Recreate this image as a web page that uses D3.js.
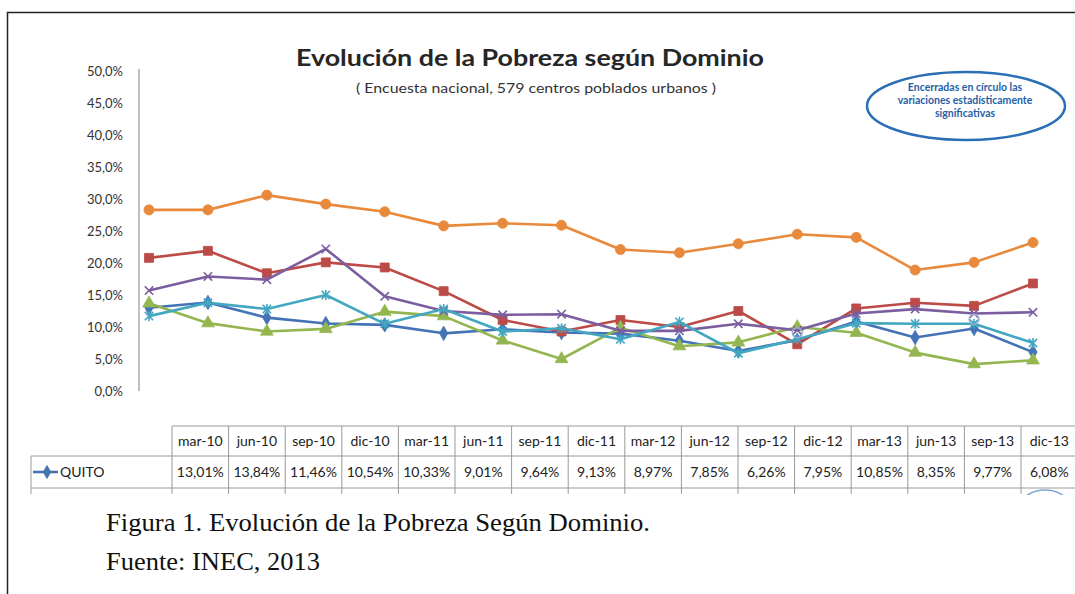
<!DOCTYPE html>
<html>
<head>
<meta charset="utf-8">
<script src="https://cdn.jsdelivr.net/npm/d3@7"></script>
<style>
  body { margin: 0; background: #fff; }
  svg { display: block; font-family: Lato, "Open Sans", sans-serif; }
</style>
</head>
<body>
<script>
// periods (table header) and values, in %
const dates = ["mar-10","jun-10","sep-10","dic-10","mar-11","jun-11","sep-11","dic-11",
               "mar-12","jun-12","sep-12","dic-12","mar-13","jun-13","sep-13","dic-13"];
const quito   = [13.01,13.84,11.46,10.54,10.33,9.01,9.64,9.13,8.97,7.85,6.26,7.95,10.85,8.35,9.77,6.08];
// other domains (rows of the table are cut off in the picture)
const serie2  = [20.8,21.9,18.4,20.1,19.3,15.6,11.1,9.3,11.1,10.0,12.5,7.3,12.9,13.8,13.3,16.8];
const serie3  = [13.7,10.6,9.3,9.7,12.4,11.7,7.9,5.0,9.9,7.0,7.6,10.0,9.1,6.0,4.2,4.8];
const serie4  = [15.7,17.9,17.4,22.2,14.8,12.5,11.9,12.0,9.4,9.4,10.5,9.5,12.1,12.8,12.1,12.3];
const serie5  = [11.7,13.8,12.8,15.0,10.5,12.8,9.3,9.8,8.1,10.8,5.9,8.1,10.6,10.5,10.5,7.5];
const serie6  = [28.3,28.3,30.6,29.2,28.0,25.8,26.2,25.9,22.1,21.6,23.0,24.5,24.0,18.9,20.1,23.2];
const yTicks  = [0,5,10,15,20,25,30,35,40,45,50];
// small circles marking significant changes
const sigDates  = ["dic-12","sep-13"];
const sigValues = [9.1, 11.2];

const W = 1075, H = 594;

// custom marker shapes (excel style x and star)
const symX = {
  draw(ctx, size) {
    const r = Math.sqrt(size) / 2;
    ctx.moveTo(-r, -r); ctx.lineTo(r, r);
    ctx.moveTo(r, -r); ctx.lineTo(-r, r);
  }
};
const symStar = {
  draw(ctx, size) {
    const r = Math.sqrt(size) / 2;
    ctx.moveTo(-r, -r); ctx.lineTo(r, r);
    ctx.moveTo(r, -r); ctx.lineTo(-r, r);
    ctx.moveTo(0, -r * 1.2); ctx.lineTo(0, r * 1.2);
  }
};

const series = [
  {name: "QUITO", values: quito,  color: "#4473b5", type: d3.symbolDiamond, size: 60, open: false},
  {name: "s2",    values: serie2, color: "#bc4a47", type: d3.symbolSquare,  size: 80, open: false},
  {name: "s3",    values: serie3, color: "#94b650", type: d3.symbolTriangle, size: 70, open: false},
  {name: "s4",    values: serie4, color: "#7b5e9f", type: symX,    size: 70, open: true},
  {name: "s5",    values: serie5, color: "#43a7c2", type: symStar, size: 70, open: true},
  {name: "s6",    values: serie6, color: "#e8893b", type: d3.symbolCircle, size: 80, open: false}
];

const svg = d3.select("body").append("svg").attr("width", W).attr("height", H);

// frame
svg.append("rect").attr("x", 7.5).attr("y", 12.5).attr("width", W).attr("height", H)
  .attr("fill", "none").attr("stroke", "#222").attr("stroke-width", 1.5);

const x = d3.scalePoint().domain(dates).range([149, 1033]);
const y = d3.scaleLinear().domain([0, 50]).range([391, 71]);

// title
svg.append("text").attr("x", 530).attr("y", 66).attr("text-anchor", "middle")
  .attr("font-size", 23).attr("font-weight", "bold").attr("fill", "#262626")
  .attr("textLength", 468).attr("lengthAdjust", "spacingAndGlyphs")
  .text("Evolución de la Pobreza según Dominio");
svg.append("text").attr("x", 536).attr("y", 93).attr("text-anchor", "middle")
  .attr("font-size", 13).attr("fill", "#333")
  .attr("textLength", 360).attr("lengthAdjust", "spacingAndGlyphs")
  .text("( Encuesta nacional, 579  centros poblados urbanos )");

// note in ellipse
svg.append("ellipse").attr("cx", 966).attr("cy", 106).attr("rx", 99).attr("ry", 34)
  .attr("fill", "none").attr("stroke", "#2a6fb5").attr("stroke-width", 2.5);
const note = ["Encerradas en círculo las", "variaciones estadísticamente", "significativas"];
svg.append("g").selectAll("text").data(note).join("text")
  .attr("x", 965).attr("y", (d, i) => 87 + i * 13).attr("dy", "0.35em").attr("text-anchor", "middle")
  .attr("font-size", 10.5).attr("font-weight", "bold").attr("fill", "#1f5fa6")
  .text(d => d);

// y axis
svg.append("line").attr("x1", 139).attr("x2", 139).attr("y1", 69).attr("y2", 391)
  .attr("stroke", "#aaa").attr("stroke-width", 1.5);
svg.append("g").selectAll("text").data(yTicks).join("text")
  .attr("x", 123).attr("y", d => y(d)).attr("dy", "0.35em").attr("text-anchor", "end")
  .attr("font-size", 13).attr("fill", "#333")
  .text(d => d3.format(".1f")(d).replace(".", ",") + "%");

// lines and markers
const line = d3.line().x((d, i) => x(dates[i])).y(d => y(d));
const gSeries = svg.append("g");
series.forEach(s => {
  const g = gSeries.append("g");
  g.append("path").datum(s.values).attr("d", line)
    .attr("fill", "none").attr("stroke", s.color).attr("stroke-width", 2.6)
    .attr("stroke-linejoin", "round");
  g.selectAll("path.m").data(s.values).join("path").attr("class", "m")
    .attr("transform", (d, i) => `translate(${x(dates[i])},${y(d)})`)
    .attr("d", d3.symbol().type(s.type).size(s.size))
    .attr("fill", s.open ? "none" : s.color)
    .attr("stroke", s.color).attr("stroke-width", s.open ? 1.6 : 0.8);
});

// significance circles
svg.append("g").selectAll("circle").data(sigDates).join("circle")
  .attr("cx", d => x(d)).attr("cy", (d, i) => y(sigValues[i])).attr("r", 5)
  .attr("fill", "none").attr("stroke", "#9bb0d3").attr("stroke-width", 1.4);

// data table
const colX0 = 172, colW = 56.6;
const rowTop = 426, rowMid = 456, rowBot = 488, stubBot = 494;
const tbl = svg.append("g").attr("stroke", "#9a9a9a").attr("stroke-width", 1);
tbl.append("line").attr("x1", colX0).attr("x2", W).attr("y1", rowTop).attr("y2", rowTop);
tbl.append("line").attr("x1", 31).attr("x2", W).attr("y1", rowMid).attr("y2", rowMid);
tbl.append("line").attr("x1", 31).attr("x2", W).attr("y1", rowBot).attr("y2", rowBot);
tbl.append("line").attr("x1", 31).attr("x2", 31).attr("y1", rowMid).attr("y2", stubBot);
tbl.selectAll("line.col").data(d3.range(dates.length + 1)).join("line").attr("class", "col")
  .attr("x1", i => colX0 + i * colW).attr("x2", i => colX0 + i * colW)
  .attr("y1", rowTop).attr("y2", stubBot);

svg.append("g").selectAll("text").data(dates).join("text")
  .attr("x", (d, i) => colX0 + i * colW + colW / 2).attr("y", 441).attr("dy", "0.35em")
  .attr("text-anchor", "middle").attr("font-size", 14).attr("fill", "#222")
  .text(d => d);
svg.append("g").selectAll("text").data(quito).join("text")
  .attr("x", (d, i) => colX0 + i * colW + colW / 2).attr("y", 472).attr("dy", "0.35em")
  .attr("text-anchor", "middle").attr("font-size", 14).attr("fill", "#222")
  .text(d => d3.format(".2f")(d).replace(".", ",") + "%");

// legend key in table
svg.append("line").attr("x1", 33).attr("x2", 58).attr("y1", 472).attr("y2", 472)
  .attr("stroke", series[0].color).attr("stroke-width", 2.6);
svg.append("path").attr("transform", "translate(47,472)")
  .attr("d", d3.symbol().type(d3.symbolDiamond).size(60)).attr("fill", series[0].color);
svg.append("text").attr("x", 60).attr("y", 472).attr("dy", "0.35em")
  .attr("font-size", 14).attr("fill", "#222").text("QUITO");

// partial circle of the cut-off next row
svg.append("defs").append("clipPath").attr("id", "cut")
  .append("rect").attr("x", 0).attr("y", 0).attr("width", W).attr("height", stubBot + 1);
svg.append("ellipse").attr("clip-path", "url(#cut)")
  .attr("cx", 1045).attr("cy", 506).attr("rx", 24).attr("ry", 16)
  .attr("fill", "none").attr("stroke", "#7fa5d6").attr("stroke-width", 1.5);

// caption
svg.append("text").attr("x", 106).attr("y", 531)
  .attr("font-family", "'Liberation Serif', 'Times New Roman', serif")
  .attr("font-size", 25).attr("fill", "#111")
  .attr("textLength", 544).attr("lengthAdjust", "spacingAndGlyphs")
  .text("Figura 1. Evolución de la Pobreza Según Dominio.");
svg.append("text").attr("x", 106).attr("y", 570)
  .attr("font-family", "'Liberation Serif', 'Times New Roman', serif")
  .attr("font-size", 25).attr("fill", "#111")
  .attr("textLength", 214).attr("lengthAdjust", "spacingAndGlyphs")
  .text("Fuente: INEC, 2013");
</script>
</body>
</html>
